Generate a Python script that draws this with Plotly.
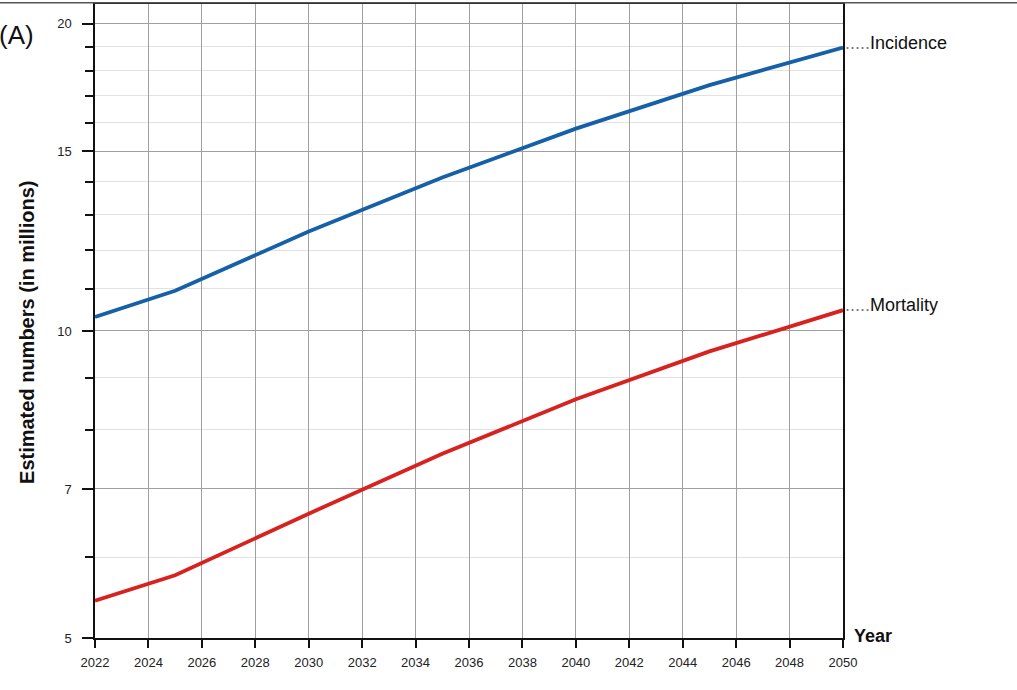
import numpy as np
import plotly.graph_objects as go

# ===== data =====
years = [2022, 2025, 2030, 2035, 2040, 2045, 2050]
incidence = [10.32, 10.95, 12.52, 14.14, 15.79, 17.42, 18.96]
mortality = [5.44, 5.76, 6.62, 7.58, 8.57, 9.55, 10.48]

y_major = [5, 7, 10, 15, 20]
y_minor = [6, 8, 9, 11, 12, 13, 14, 16, 17, 18, 19]
x_ticks = list(range(2022, 2051, 2))

blue = "#1660a8"
red = "#d8221f"
font_family = "Liberation Sans, Arial, sans-serif"

# ===== figure =====
fig = go.Figure()

fig.add_trace(go.Scatter(x=years, y=incidence, mode="lines", name="Incidence",
                         line=dict(color=blue, width=3.8)))
fig.add_trace(go.Scatter(x=years, y=mortality, mode="lines", name="Mortality",
                         line=dict(color=red, width=3.8)))

# end labels with dotted leaders
for label, values in (("Incidence", incidence), ("Mortality", mortality)):
    fig.add_annotation(
        x=years[-1], y=np.log10(values[-1]), xref="x", yref="y",
        text=f"<span style='color:#777'>.....</span>{label}",
        showarrow=False, xanchor="left", yanchor="middle", yshift=5, xshift=0,
        font=dict(size=18, color="#111", family=font_family),
    )

fig.add_annotation(
    x=(27 - 95) / 748, y=(638 - 332) / 636, xref="paper", yref="paper",
    text="<b>Estimated numbers (in millions)</b>", textangle=-90,
    showarrow=False, xanchor="center", yanchor="middle",
    font=dict(size=20, color="#111", family=font_family),
)
fig.add_annotation(
    x=(852 - 95) / 748, y=(638 - 636) / 636, xref="paper", yref="paper",
    text="<b>Year</b>", showarrow=False, xanchor="left", yanchor="middle",
    font=dict(size=18, color="#111", family=font_family),
)
fig.add_annotation(
    x=(-3 - 95) / 748, y=(638 - 33) / 636, xref="paper", yref="paper",
    text="(A)", showarrow=False, xanchor="left", yanchor="middle",
    font=dict(size=26, color="#111", family=font_family),
)

# thin frame line at very top of the picture
fig.add_shape(type="line", xref="paper", yref="paper",
              x0=-95 / 748, x1=(1017 - 95) / 748, y0=1.002, y1=1.002,
              line=dict(color="#555", width=1.5))

fig.update_layout(
    width=1017, height=690,
    margin=dict(l=95, r=174, t=2, b=52),
    paper_bgcolor="white", plot_bgcolor="white",
    showlegend=False,
    font=dict(family=font_family, color="#222"),
)
fig.update_xaxes(
    range=[2022, 2050],
    tickmode="array", tickvals=x_ticks,
    ticks="outside", ticklen=8, tickwidth=1.5, tickcolor="#111",
    tickfont=dict(size=13, color="#222"), ticklabelstandoff=4,
    showgrid=True, gridcolor="#a0a0a0", gridwidth=1,
    showline=True, linecolor="#111", linewidth=1.5, mirror=True,
    zeroline=False,
)
fig.update_yaxes(
    type="log",
    range=[np.log10(5), np.log10(20.92)],
    tickmode="array", tickvals=y_major,
    ticks="outside", ticklen=11, tickwidth=1.5, tickcolor="#111",
    tickfont=dict(size=13, color="#222"), ticklabelstandoff=8,
    showgrid=True, gridcolor="#a0a0a0", gridwidth=1,
    minor=dict(tickmode="array", tickvals=y_minor, ticks="outside", ticklen=8,
               tickwidth=1.5, tickcolor="#111", showgrid=True,
               gridcolor="#e2e2e2", gridwidth=1),
    showline=True, linecolor="#111", linewidth=1.5, mirror=True,
    zeroline=False,
)

fig.write_html("out.html", config={"displayModeBar": False},
               post_script="document.body.style.margin = '0';")
